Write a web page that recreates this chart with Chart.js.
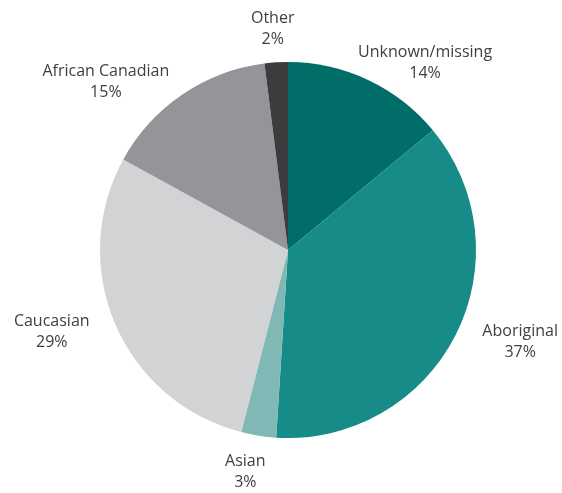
<!DOCTYPE html>
<html>
<head>
<meta charset="utf-8">
<script src="https://cdn.jsdelivr.net/npm/chart.js@4.4.0/dist/chart.umd.min.js"></script>
<style>
  html, body { margin: 0; padding: 0; background: #ffffff; }
  #wrap { width: 562px; height: 493px; }
</style>
</head>
<body>
<div id="wrap"><canvas id="pieChart" width="562" height="493"></canvas></div>
<script>
// Share of cases by group, clockwise from 12 o'clock
const groups = ['Unknown/missing', 'Aboriginal', 'Asian', 'Caucasian', 'African Canadian', 'Other'];
const shares = [14, 37, 3, 29, 15, 2];
const sliceColors = ['#006d68', '#178b88', '#7fb8b4', '#d1d3d5', '#939598', '#3b3c3e'];

// small nudges for each label, relative to a point just outside its slice
const labelNudge = [[40, 19], [29, -12], [-7, -3], [-27, -9], [-54, 21], [-1, 6]];

const outsideLabels = {
    id: 'outsideLabels',
    afterDatasetsDraw(chart) {
        const ctx = chart.ctx;
        const arcs = chart.getDatasetMeta(0).data;
        ctx.save();
        ctx.font = '16px "Open Sans", sans-serif';
        ctx.fillStyle = '#404040';
        ctx.textAlign = 'center';
        ctx.textBaseline = 'middle';
        arcs.forEach((arc, i) => {
            const p = arc.getProps(['x', 'y', 'startAngle', 'endAngle', 'outerRadius'], true);
            const mid = (p.startAngle + p.endAngle) / 2;
            const r = p.outerRadius + 40;
            const x = p.x + Math.cos(mid) * r + labelNudge[i][0];
            const y = p.y + Math.sin(mid) * r + labelNudge[i][1];
            ctx.fillText(groups[i], x, y - 10.5);
            ctx.fillText(shares[i] + '%', x, y + 10.5);
        });
        ctx.restore();
    }
};

const ctx = document.getElementById('pieChart').getContext('2d');
new Chart(ctx, {
    type: 'pie',
    data: {
        labels: groups,
        datasets: [{
            data: shares,
            backgroundColor: sliceColors,
            borderWidth: 0
        }]
    },
    options: {
        responsive: false,
        animation: false,
        layout: {
            padding: { top: 62, bottom: 55, left: 100, right: 86 }
        },
        plugins: {
            legend: { display: false },
            tooltip: { enabled: false }
        }
    },
    plugins: [outsideLabels]
});
</script>
</body>
</html>
